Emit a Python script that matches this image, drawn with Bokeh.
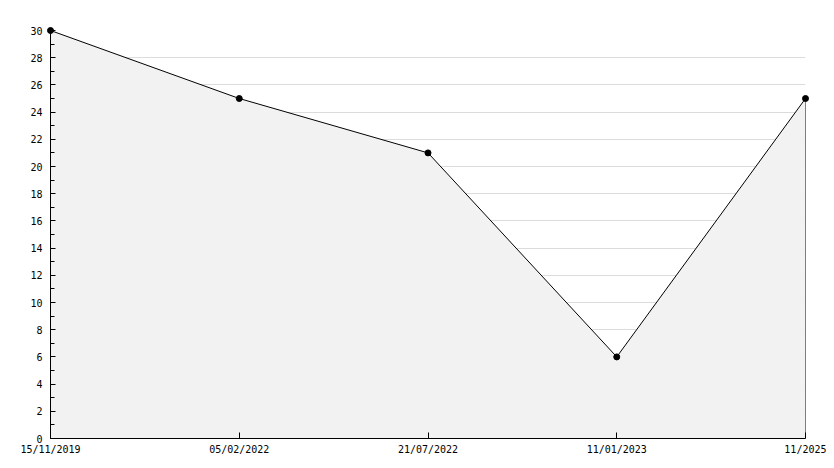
from bokeh.plotting import figure
from bokeh.models import Range1d, FixedTicker
from bokeh.embed import file_html
from bokeh.resources import INLINE

dates = ["15/11/2019", "05/02/2022", "21/07/2022", "11/01/2023", "11/2025"]
values = [30, 25, 21, 6, 25]
y_ticks = list(range(0, 31, 2))

xs = list(range(len(dates)))

p = figure(width=826, height=460, output_backend="svg", toolbar_location=None,
           x_range=Range1d(0, len(dates) - 1), y_range=Range1d(0, 30),
           min_border_left=50, min_border_right=21, min_border_top=30, min_border_bottom=22)
p.outline_line_color = None
p.background_fill_color = "white"

# area fill
p.patch(xs + [xs[-1], xs[0]], values + [0, 0], fill_color="#f2f2f2", line_color=None)
# outline along data and down the right edge
p.line(xs + [xs[-1]], values + [0], line_color="black", line_width=1)
pts = p.scatter(xs, values, marker="circle", size=6, color="black", level="overlay")

p.xgrid.visible = False
p.ygrid.ticker = FixedTicker(ticks=y_ticks)
p.ygrid.grid_line_color = "#dcdcdc"

p.xaxis.ticker = FixedTicker(ticks=xs)
p.xaxis.major_label_overrides = {i: d for i, d in enumerate(dates)}
p.xaxis.major_tick_in = 6
p.xaxis.major_tick_out = 0
p.xaxis.minor_tick_line_color = None
p.xaxis.major_label_standoff = 5

p.yaxis.ticker = FixedTicker(ticks=y_ticks, minor_ticks=list(range(0, 31)))
p.yaxis.major_tick_in = 5
p.yaxis.major_tick_out = 0
p.yaxis.minor_tick_in = 4
p.yaxis.minor_tick_out = 0
p.yaxis.major_label_standoff = 8

for ax in (p.xaxis, p.yaxis):
    ax.axis_line_color = "black"
    ax.major_tick_line_color = "black"
    ax.major_label_text_font = "DejaVu Sans Mono"
    ax.major_label_text_font_size = "10px"
    ax.major_label_text_color = "black"
p.yaxis.minor_tick_line_color = "black"

open("out.html", "w").write(file_html(p, INLINE))
